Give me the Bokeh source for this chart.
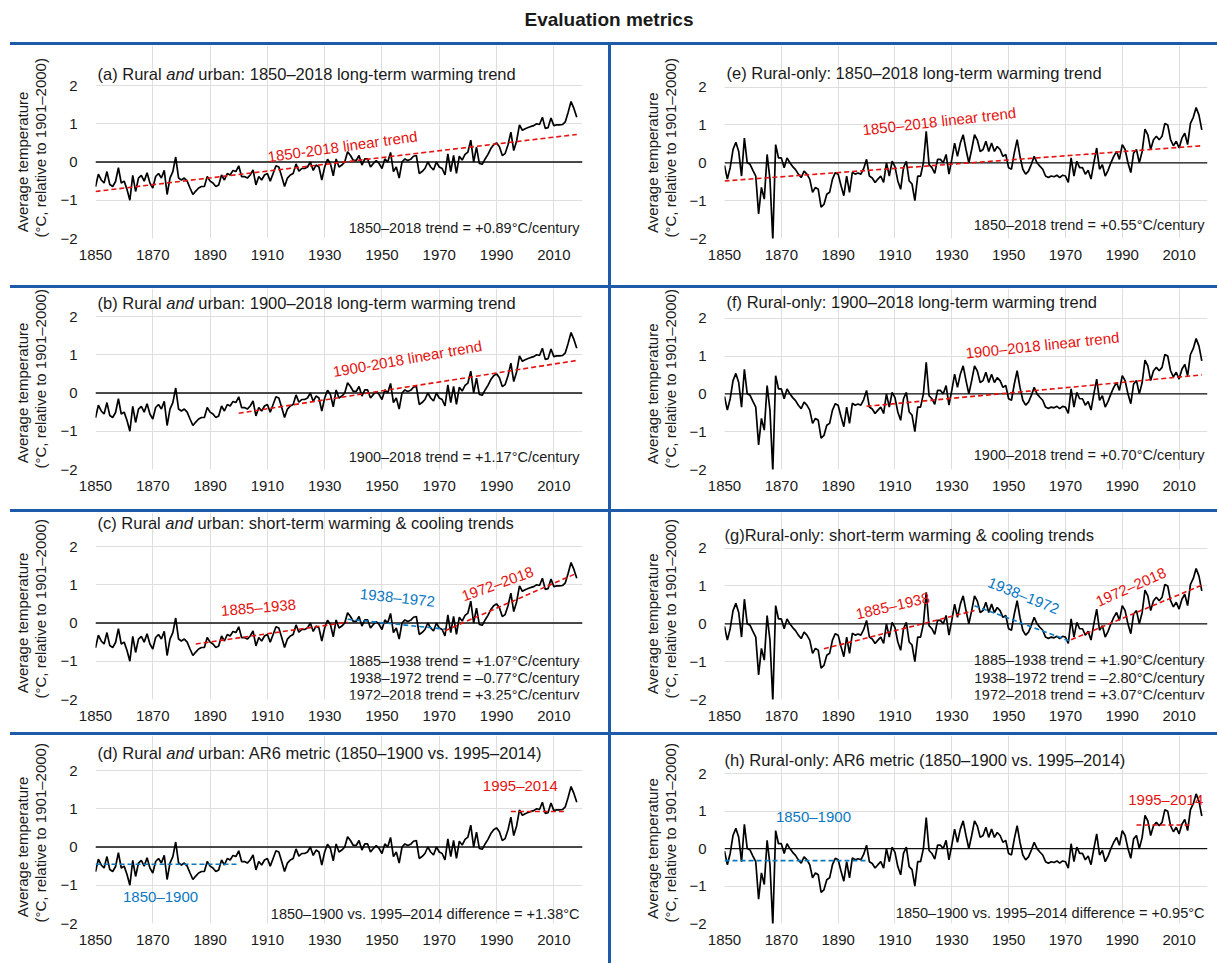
import math
from bokeh.plotting import figure
from bokeh.models import Label, Span, Range1d, FixedTicker, Div
from bokeh.layouts import column, row
from bokeh.embed import file_html
from bokeh.resources import INLINE

# ---------------- data ----------------
years = list(range(1850, 2019))

rural_urban = [
    -0.65, -0.32, -0.47, -0.55, -0.25, -0.59, -0.64, -0.51, -0.15, -0.55,
    -0.50, -0.72, -1.00, -0.35, -0.77, -0.42, -0.35, -0.50, -0.28, -0.55,
    -0.68, -0.38, -0.30, -0.42, -0.22, -0.85, -0.42, -0.25, 0.13, -0.42,
    -0.47, -0.42, -0.50, -0.68, -0.85, -0.76, -0.68, -0.64, -0.64, -0.38,
    -0.50, -0.55, -0.64, -0.60, -0.34, -0.47, -0.30, -0.34, -0.22, -0.25,
    -0.10, -0.38, -0.38, -0.42, -0.34, -0.21, -0.60, -0.38, -0.47, -0.34,
    -0.30, -0.50, -0.30, -0.10, -0.13, -0.38, -0.64, -0.42, -0.34, -0.30,
    -0.05, -0.24, -0.17, -0.17, -0.13, 0.00, -0.22, -0.08, -0.13, -0.47,
    -0.13, 0.07, -0.04, -0.36, 0.08, -0.13, -0.08, 0.00, 0.27, 0.17,
    0.04, 0.04, 0.17, -0.08, 0.08, 0.08, -0.13, -0.04, 0.04, -0.04,
    -0.17, 0.08, 0.00, 0.25, -0.25, -0.13, -0.42, 0.00, 0.08, 0.04,
    0.07, 0.15, 0.17, -0.30, -0.25, -0.17, 0.00, -0.13, -0.21, 0.00,
    -0.13, -0.17, -0.34, 0.21, -0.25, 0.17, -0.30, 0.15, 0.05, 0.20,
    0.26, 0.57, 0.00, 0.39, -0.04, -0.06, 0.08, 0.20, 0.35, 0.45,
    0.50, 0.40, 0.17, 0.22, 0.45, 0.78, 0.30, 0.55, 0.97, 0.83,
    0.87, 0.90, 0.93, 0.95, 1.00, 0.98, 1.17, 0.88, 0.90, 1.15,
    0.95, 0.97, 0.97, 0.98, 1.05, 1.30, 1.58, 1.40, 1.17,
]

rural_only = [
    -0.07, -0.43, -0.13, 0.35, 0.54, 0.30, -0.35, 0.65, 0.00, -0.04,
    -0.20, -0.35, -1.35, -0.65, -0.96, 0.22, -0.43, -2.04, 0.48, 0.13,
    0.13, -0.13, 0.13, 0.00, -0.10, -0.18, -0.30, -0.39, -0.22, -0.30,
    -0.43, -0.78, -0.65, -0.70, -1.17, -1.10, -0.83, -0.78, -0.43, -0.26,
    -0.30, -0.60, -0.87, -0.35, -0.78, -0.25, -0.30, -0.27, -0.30, -0.15,
    0.09, -0.35, -0.40, -0.52, -0.43, -0.35, -0.52, 0.00, -0.35, 0.04,
    -0.10, -0.48, -0.70, -0.13, 0.04, -0.48, -0.56, -1.00, -0.35, -0.35,
    0.00, 0.83, -0.05, -0.13, -0.28, 0.09, 0.09, 0.00, 0.22, -0.30,
    0.09, 0.52, 0.17, 0.52, 0.74, 0.35, 0.00, 0.35, 0.74, 0.60,
    0.30, 0.35, 0.57, 0.30, 0.52, 0.30, 0.43, 0.35, 0.17, 0.22,
    -0.13, -0.17, 0.26, 0.61, 0.17, -0.17, -0.30, -0.22, -0.04, 0.17,
    0.00, -0.09, -0.17, -0.35, -0.39, -0.35, -0.37, -0.33, -0.39, -0.33,
    -0.35, -0.52, 0.13, -0.35, 0.04, -0.13, -0.13, -0.30, -0.20, -0.43,
    0.00, 0.39, -0.17, -0.05, -0.35, -0.20, 0.00, 0.17, 0.30, 0.09,
    0.48, 0.35, 0.00, -0.26, 0.26, 0.35, 0.00, 0.30, 0.89, 0.74,
    0.35, 0.61, 0.70, 0.61, 0.70, 1.04, 1.00, 0.61, 0.45, 0.57,
    0.39, 0.65, 0.78, 0.48, 1.04, 1.20, 1.46, 1.26, 0.87,
]

x_ticks = [1850, 1870, 1890, 1910, 1930, 1950, 1970, 1990, 2010]
x_grid_ticks = [1850, 1870, 1890, 1910, 1930, 1950, 1970, 1990, 2010, 2020]
y_ticks = [-2, -1, 0, 1, 2]
y_tick_labels = {-2: "\u22122", -1: "\u22121", 0: "0", 1: "1", 2: "2"}
y_label_lines = ["Average temperature", "(\u00b0C, relative to 1901\u20132000)"]

# trend segments: [start year, end year, start value, end value]
trend_ru_1850 = [1850, 2018, -0.77, 0.72]
trend_ru_1900 = [1900, 2018, -0.53, 0.85]
trend_ru_1885_1938 = [1885, 1938, -0.55, 0.02]
trend_ru_1938_1972 = [1938, 1972, 0.10, -0.16]
trend_ru_1972_2018 = [1972, 2018, -0.20, 1.30]
mean_ru_1850_1900 = [1850, 1900, -0.45, -0.45]
mean_ru_1995_2014 = [1995, 2014, 0.93, 0.93]

trend_ro_1850 = [1850, 2018, -0.48, 0.45]
trend_ro_1900 = [1900, 2018, -0.33, 0.50]
trend_ro_1885_1938 = [1885, 1938, -0.66, 0.35]
trend_ro_1938_1972 = [1938, 1972, 0.48, -0.47]
trend_ro_1972_2018 = [1972, 2018, -0.42, 1.02]
mean_ro_1850_1900 = [1850, 1900, -0.32, -0.32]
mean_ro_1995_2014 = [1995, 2014, 0.63, 0.63]

# ---------------- style ----------------
FONT = "Liberation Sans"
RED = "#e3130f"
BLUE = "#0a78c2"
BAR = "#1d5ba8"
GRID = "#dedede"
TXT = "#1a1a1a"
PX_PER_UNIT = 38.25   # 4 units -> 153 px

AW = {'(': 333, ')': 333, ' ': 278, 'a': 556, 'b': 556, 'c': 500, 'd': 556,
      'R': 722, 'u': 556, 'r': 333, 'l': 222, 'n': 556}


def text_w(s, size):
    return sum(AW.get(ch, 556) for ch in s) * size / 1000.0


TITLE_SIZE = 16.5
YLAB_SIZE = "15px"

panels = {
    'a': dict(series=rural_urban, pieces=[("(a) Rural ", "normal"), ("and", "italic"),
                                          (" urban: 1850\u20132018 long-term warming trend", "normal")],
              title_dy=12, title_dx=2,
              trends=[(trend_ru_1850, RED)],
              notes=[("1850-2018 linear trend", 1936.2, 0.41, 8, RED)],
              stats=[("1850\u20132018 trend = +0.89\u00b0C/century", 11)]),
    'b': dict(series=rural_urban, pieces=[("(b) Rural ", "normal"), ("and", "italic"),
                                          (" urban: 1900\u20132018 long-term warming trend", "normal")],
              title_dy=14, title_dx=2,
              trends=[(trend_ru_1900, RED)],
              notes=[("1900-2018 linear trend", 1958.9, 0.9, 10, RED)],
              stats=[("1900\u20132018 trend = +1.17\u00b0C/century", 13)]),
    'c': dict(series=rural_urban, pieces=[("(c) Rural ", "normal"), ("and", "italic"),
                                          (" urban: short-term warming & cooling trends", "normal")],
              title_dy=24, title_dx=2,
              trends=[(trend_ru_1885_1938, RED), (trend_ru_1938_1972, BLUE), (trend_ru_1972_2018, RED)],
              notes=[("1885\u20131938", 1906.9, 0.41, 5, RED),
                     ("1938\u20131972", 1955.4, 0.67, -6, BLUE),
                     ("1972\u20132018", 1990.3, 1.03, 20, RED)],
              stats=[("1885\u20131938 trend = +1.07\u00b0C/century", 39),
                     ("1938\u20131972 trend = \u20130.77\u00b0C/century", 22),
                     ("1972\u20132018 trend = +3.25\u00b0C/century", 5)]),
    'd': dict(series=rural_urban, pieces=[("(d) Rural ", "normal"), ("and", "italic"),
                                          (" urban: AR6 metric (1850\u20131900 vs. 1995\u20132014)", "normal")],
              title_dy=18, title_dx=2,
              trends=[(mean_ru_1850_1900, BLUE), (mean_ru_1995_2014, RED)],
              notes=[("1850\u20131900", 1872.7, -1.29, 0, BLUE),
                     ("1995\u20132014", 1998.3, 1.62, 0, RED)],
              stats=[("1850\u20131900 vs. 1995\u20132014 difference = +1.38\u00b0C", 10)]),
    'e': dict(series=rural_only, pieces=[("(e) Rural-only: 1850\u20132018 long-term warming trend", "normal")],
              title_dy=14, title_dx=2,
              trends=[(trend_ro_1850, RED)],
              notes=[("1850\u20132018 linear trend", 1925.6, 1.10, 6.5, RED)],
              stats=[("1850\u20132018 trend = +0.55\u00b0C/century", 14)]),
    'f': dict(series=rural_only, pieces=[("(f) Rural-only: 1900\u20132018 long-term warming trend", "normal")],
              title_dy=16, title_dx=2,
              trends=[(trend_ro_1900, RED)],
              notes=[("1900\u20132018 linear trend", 1961.9, 1.29, 6, RED)],
              stats=[("1900\u20132018 trend = +0.70\u00b0C/century", 15)]),
    'g': dict(series=rural_only, pieces=[("(g)Rural-only: short-term warming & cooling trends", "normal")],
              title_dy=13, title_dx=0,
              trends=[(trend_ro_1885_1938, RED), (trend_ro_1938_1972, BLUE), (trend_ro_1972_2018, RED)],
              notes=[("1885\u20131938", 1909.2, 0.48, 13, RED),
                     ("1938\u20131972", 1955.3, 0.75, -22, BLUE),
                     ("1972\u20132018", 1993.0, 0.98, 24, RED)],
              stats=[("1885\u20131938 trend = +1.90\u00b0C/century", 40),
                     ("1938\u20131972 trend = \u20132.80\u00b0C/century", 22),
                     ("1972\u20132018 trend = +3.07\u00b0C/century", 5)]),
    'h': dict(series=rural_only, pieces=[("(h) Rural-only: AR6 metric (1850\u20131900 vs. 1995\u20132014)", "normal")],
              title_dy=14, title_dx=0,
              trends=[(mean_ro_1850_1900, BLUE), (mean_ro_1995_2014, RED)],
              notes=[("1850\u20131900", 1881.3, 0.85, 0, BLUE),
                     ("1995\u20132014", 2005.3, 1.32, 0, RED)],
              stats=[("1850\u20131900 vs. 1995\u20132014 difference = +0.95\u00b0C", 11)]),
}

LEFT_GEOM = dict(lab_w=55, lines_x=(22, 40), plot_w=553, bl=40, br=26)
RIGHT_GEOM = dict(lab_w=75, lines_x=(41, 59), plot_w=531, bl=34, br=10)
TOTAL_W = 55 + 553 + 3 + 75 + 531
ROW_H = [240, 221, 220, 228]
# (top, bottom) space around the [-2, 2] plotting box, left / right panels
BORD_L = [(40, 47), (28, 40), (34, 33), (35, 40)]
BORD_R = [(42, 45), (30, 38), (36, 32), (39, 36)]


def bare_fig(w, h):
    f = figure(width=w, height=h, x_range=Range1d(0, w), y_range=Range1d(0, h),
               toolbar_location=None, output_backend="svg", title=None,
               x_axis_location=None, y_axis_location=None, min_border=0)
    f.grid.visible = False
    f.outline_line_color = None
    return f


def make_ylabel(geom, height, bt, bb):
    # narrow strip sharing the panel's vertical frame, holding the two-line axis title
    y_top = 2 + bt / PX_PER_UNIT
    f = figure(width=geom["lab_w"], height=height, x_range=Range1d(0, geom["lab_w"]),
               y_range=Range1d(-2, y_top),
               toolbar_location=None, output_backend="svg", title=None,
               x_axis_location=None, y_axis_location=None,
               min_border_left=0, min_border_right=0, min_border_top=0, min_border_bottom=bb)
    f.grid.visible = False
    f.outline_line_color = None
    # first line centred on the [-2, 2] box
    f.add_layout(Label(x=geom["lines_x"][0], y=0, text=y_label_lines[0], angle=math.pi / 2,
                       text_font=FONT, text_font_size=YLAB_SIZE, text_color=TXT,
                       text_align="center", text_baseline="middle"))
    # second (longer) line starts at the bottom of the box so that it stays inside the strip
    f.add_layout(Label(x=geom["lines_x"][1], y=-2, y_offset=1, text=y_label_lines[1],
                       angle=math.pi / 2, text_font=FONT, text_font_size=YLAB_SIZE,
                       text_color=TXT, text_align="left", text_baseline="middle"))
    return f


def make_panel(key, geom, height, bt, bb):
    spec = panels[key]
    y_top = 2 + bt / PX_PER_UNIT          # headroom for the panel title inside the frame
    p = figure(width=geom["plot_w"], height=height, x_range=Range1d(1850, 2020),
               y_range=Range1d(-2, y_top),
               toolbar_location=None, output_backend="svg", title=None,
               min_border_left=geom["bl"], min_border_right=geom["br"],
               min_border_top=0, min_border_bottom=bb)
    p.background_fill_color = "white"
    p.border_fill_color = "white"
    p.outline_line_color = None
    p.xaxis.ticker = FixedTicker(ticks=x_ticks)
    p.yaxis.ticker = FixedTicker(ticks=y_ticks)
    p.yaxis.major_label_overrides = y_tick_labels
    p.xgrid.ticker = FixedTicker(ticks=x_grid_ticks)
    p.xgrid.bounds = (-2, 2)
    p.ygrid.ticker = FixedTicker(ticks=y_ticks)
    p.xgrid.grid_line_color = GRID
    p.ygrid.grid_line_color = GRID
    for ax in (p.xaxis[0], p.yaxis[0]):
        ax.axis_line_color = None
        ax.major_tick_line_color = None
        ax.minor_tick_line_color = None
        ax.major_label_text_font = FONT
        ax.major_label_text_font_size = "15px"
        ax.major_label_text_color = TXT
    p.xaxis.major_label_standoff = 5
    p.yaxis.major_label_standoff = 12

    p.add_layout(Span(location=0, dimension="width", line_color="#111111", line_width=1.3, level="underlay"))
    p.line(years, spec["series"], line_color="black", line_width=1.7)
    for seg, col in spec["trends"]:
        p.line([seg[0], seg[1]], [seg[2], seg[3]], line_color=col, line_dash="5 3", line_width=1.6)

    dx = spec["title_dx"]
    for txt, style in spec["pieces"]:
        lead = len(txt) - len(txt.lstrip(" "))
        shown = txt.strip(" ")
        p.add_layout(Label(x=1850, y=2, x_offset=dx + text_w(" " * lead, TITLE_SIZE),
                           y_offset=spec["title_dy"], text=shown,
                           text_font=FONT, text_font_size=f"{TITLE_SIZE}px", text_font_style=style,
                           text_color=TXT, text_baseline="middle", text_align="left"))
        dx += text_w(txt, TITLE_SIZE)

    for txt, x, y, ang, col in spec["notes"]:
        p.add_layout(Label(x=x, y=y, text=txt, angle=math.radians(ang), text_font=FONT,
                           text_font_size="15px", text_color=col, text_align="center",
                           text_baseline="middle"))
    for txt, dy in spec["stats"]:
        p.add_layout(Label(x=2020, y=-2, x_offset=-3, y_offset=dy, text=txt, text_font=FONT,
                           text_font_size="14.5px", text_color=TXT, text_align="right",
                           text_baseline="middle"))
    return p


def hbar():
    return Div(text="", width=TOTAL_W, height=3, margin=(0, 0, 0, 0),
               styles={"background": f"linear-gradient(to right, #ffffff 10px, {BAR} 10px)"})


def vbar(h):
    return Div(text="", width=3, height=h, margin=(0, 0, 0, 0),
               styles={"background-color": BAR})


title_fig = bare_fig(TOTAL_W, 42)
title_fig.add_layout(Label(x=TOTAL_W / 2.0, y=23, text="Evaluation metrics", text_font=FONT,
                           text_font_size="19px", text_font_style="bold", text_color=TXT,
                           text_align="center", text_baseline="middle"))

left_keys = ['a', 'b', 'c', 'd']
right_keys = ['e', 'f', 'g', 'h']
children = [title_fig]
for i in range(4):
    h = ROW_H[i]
    ll = make_ylabel(LEFT_GEOM, h, BORD_L[i][0], BORD_L[i][1])
    lp = make_panel(left_keys[i], LEFT_GEOM, h, BORD_L[i][0], BORD_L[i][1])
    rl = make_ylabel(RIGHT_GEOM, h, BORD_R[i][0], BORD_R[i][1])
    rp = make_panel(right_keys[i], RIGHT_GEOM, h, BORD_R[i][0], BORD_R[i][1])
    children.append(hbar())
    children.append(row(ll, lp, vbar(h), rl, rp, spacing=0))

layout = column(*children, spacing=0)

open("out.html", "w").write(file_html(layout, INLINE))
